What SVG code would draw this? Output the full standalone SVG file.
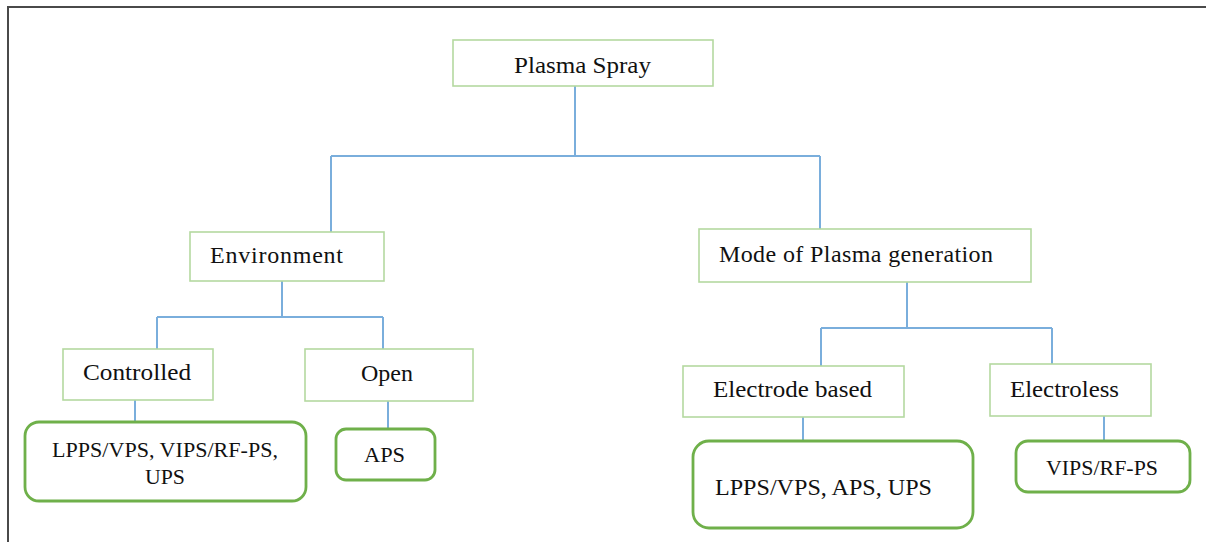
<svg xmlns="http://www.w3.org/2000/svg" width="1206" height="542" viewBox="0 0 1206 542">
<style>
.bg{fill:#ffffff}
.frame{fill:none;stroke:#4a4a4a;stroke-width:2}
.sq{fill:#ffffff;stroke:#b5d9a0;stroke-width:1.6}
.rd{fill:#ffffff;stroke:#6fb04a;stroke-width:2.8}
.con line{stroke:#7aaedc;stroke-width:2;fill:none}
text{font-family:"Liberation Serif","Times New Roman",serif;fill:#111111}
.t24{font-size:24px}
.t22{font-size:22px}
</style>
<rect class="bg" x="0" y="0" width="1206" height="542"/>
<path class="frame" d="M8,542 V7 H1206"/>
<g id="connectors" class="con">
<line x1="575" y1="86" x2="575" y2="156"/>
<line x1="331" y1="156" x2="820" y2="156"/>
<line x1="331" y1="156" x2="331" y2="232"/>
<line x1="820" y1="156" x2="820" y2="229"/>
<line x1="282" y1="281" x2="282" y2="317"/>
<line x1="157" y1="317" x2="383" y2="317"/>
<line x1="157" y1="317" x2="157" y2="349"/>
<line x1="383" y1="317" x2="383" y2="349"/>
<line x1="135" y1="400" x2="135" y2="422"/>
<line x1="388" y1="401" x2="388" y2="429"/>
<line x1="907" y1="282" x2="907" y2="328"/>
<line x1="821" y1="328" x2="1052" y2="328"/>
<line x1="821" y1="328" x2="821" y2="366"/>
<line x1="1052" y1="328" x2="1052" y2="364"/>
<line x1="803" y1="417" x2="803" y2="441"/>
<line x1="1104" y1="416" x2="1104" y2="441"/>
</g>
<g id="plasma-spray">
<rect class="sq" x="453" y="40" width="260" height="46"/>
<text class="t24" x="514" y="73" textLength="137" lengthAdjust="spacingAndGlyphs">Plasma Spray</text>
</g>
<g id="environment">
<rect class="sq" x="190" y="232" width="194" height="49"/>
<text class="t24" x="210" y="263" textLength="133" lengthAdjust="spacing">Environment</text>
</g>
<g id="mode">
<rect class="sq" x="699" y="229" width="332" height="53"/>
<text class="t24" x="719" y="262" textLength="274" lengthAdjust="spacing">Mode of Plasma generation</text>
</g>
<g id="controlled">
<rect class="sq" x="63" y="349" width="150" height="51"/>
<text class="t24" x="83" y="380" textLength="108" lengthAdjust="spacingAndGlyphs">Controlled</text>
</g>
<g id="open">
<rect class="sq" x="305" y="349" width="168" height="52"/>
<text class="t24" x="361" y="381" textLength="52" lengthAdjust="spacingAndGlyphs">Open</text>
</g>
<g id="electrode-based">
<rect class="sq" x="683" y="366" width="221" height="51"/>
<text class="t24" x="713" y="397" textLength="159" lengthAdjust="spacingAndGlyphs">Electrode based</text>
</g>
<g id="electroless">
<rect class="sq" x="990" y="364" width="161" height="52"/>
<text class="t24" x="1010" y="397" textLength="109" lengthAdjust="spacingAndGlyphs">Electroless</text>
</g>
<g id="controlled-processes">
<rect class="rd" x="25" y="422" width="281" height="79" rx="14"/>
<text class="t22" x="52" y="457" textLength="226" lengthAdjust="spacingAndGlyphs">LPPS/VPS, VIPS/RF-PS,</text>
<text class="t22" x="145" y="484" textLength="40" lengthAdjust="spacingAndGlyphs">UPS</text>
</g>
<g id="open-processes">
<rect class="rd" x="336" y="429" width="99" height="51" rx="10"/>
<text class="t22" x="364" y="462" textLength="41" lengthAdjust="spacingAndGlyphs">APS</text>
</g>
<g id="electrode-processes">
<rect class="rd" x="693" y="441" width="280" height="87" rx="16"/>
<text class="t24" x="715" y="495" textLength="217" lengthAdjust="spacingAndGlyphs">LPPS/VPS, APS, UPS</text>
</g>
<g id="electroless-processes">
<rect class="rd" x="1016" y="441" width="174" height="51" rx="12"/>
<text class="t22" x="1046" y="475" textLength="112" lengthAdjust="spacingAndGlyphs">VIPS/RF-PS</text>
</g>
</svg>
